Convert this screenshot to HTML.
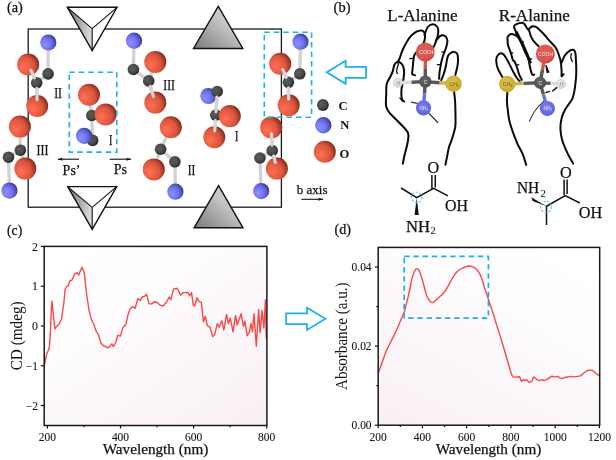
<!DOCTYPE html>
<html><head><meta charset="utf-8"><title>Figure</title>
<style>html,body{margin:0;padding:0;background:#fff;} svg{display:block;} text{font-family:"Liberation Serif", "Times New Roman", serif;}</style>
</head><body>
<svg width="616" height="460" viewBox="0 0 616 460">
<rect width="616" height="460" fill="#fff"/>

<defs>
 <radialGradient id="gO" cx="0.3" cy="0.62" r="0.78">
  <stop offset="0" stop-color="#ff7256"/><stop offset="0.35" stop-color="#ed5f45"/><stop offset="0.6" stop-color="#da543e"/>
  <stop offset="0.8" stop-color="#a83c2a"/><stop offset="1" stop-color="#5e1e10"/>
 </radialGradient>
 <radialGradient id="gN" cx="0.3" cy="0.62" r="0.78">
  <stop offset="0" stop-color="#8e8eff"/><stop offset="0.35" stop-color="#7a7cf6"/><stop offset="0.6" stop-color="#6466de"/>
  <stop offset="0.8" stop-color="#4a4cb0"/><stop offset="1" stop-color="#24266a"/>
 </radialGradient>
 <radialGradient id="gC" cx="0.42" cy="0.42" r="0.62" fx="0.38" fy="0.4">
  <stop offset="0" stop-color="#5c5c5c"/><stop offset="0.6" stop-color="#4a4a4a"/>
  <stop offset="1" stop-color="#222"/>
 </radialGradient>
 <linearGradient id="gTri" x1="0" y1="1" x2="1" y2="0">
  <stop offset="0" stop-color="#7a7a7a"/><stop offset="0.6" stop-color="#c4c4c4"/><stop offset="1" stop-color="#dedede"/>
 </linearGradient>
 <linearGradient id="gFace" x1="0" y1="0" x2="1" y2="0.3">
  <stop offset="0" stop-color="#6e6e6e"/><stop offset="1" stop-color="#d8d8d8"/>
 </linearGradient>
 <radialGradient id="bRed" cx="0.45" cy="0.4" r="0.6"><stop offset="0" stop-color="#e0605a"/><stop offset="0.8" stop-color="#d9534a"/><stop offset="1" stop-color="#c84840"/></radialGradient>
 <radialGradient id="bGray" cx="0.45" cy="0.4" r="0.6"><stop offset="0" stop-color="#6a6a6a"/><stop offset="1" stop-color="#4c4c4c"/></radialGradient>
 <radialGradient id="bH" cx="0.45" cy="0.4" r="0.6"><stop offset="0" stop-color="#eeeeee"/><stop offset="1" stop-color="#cfcfcf"/></radialGradient>
 <radialGradient id="bY" cx="0.45" cy="0.4" r="0.6"><stop offset="0" stop-color="#dcc24c"/><stop offset="1" stop-color="#c9a930"/></radialGradient>
 <radialGradient id="bB" cx="0.45" cy="0.4" r="0.6"><stop offset="0" stop-color="#7c80f0"/><stop offset="1" stop-color="#5e62d8"/></radialGradient>
 <linearGradient id="bgC" x1="0.15" y1="0" x2="1" y2="1">
  <stop offset="0" stop-color="#ffffff"/><stop offset="0.3" stop-color="#fefcfd"/><stop offset="1" stop-color="#f8eff4"/>
 </linearGradient>
 <linearGradient id="bgD" x1="0.75" y1="0" x2="0.1" y2="1">
  <stop offset="0" stop-color="#ffffff"/><stop offset="0.3" stop-color="#fefcfd"/><stop offset="1" stop-color="#f9f0f5"/>
 </linearGradient>
 <linearGradient id="hb1" x1="0" y1="0" x2="1" y2="0"><stop offset="0" stop-color="#e0e0e0"/><stop offset="1" stop-color="#555"/></linearGradient>
 <linearGradient id="hb2" x1="0" y1="0" x2="1" y2="0"><stop offset="0" stop-color="#555"/><stop offset="1" stop-color="#e0e0e0"/></linearGradient>
 <marker id="ah" viewBox="0 0 10 10" refX="9" refY="5" markerWidth="5" markerHeight="5" orient="auto-start-reverse" markerUnits="strokeWidth"><path d="M0,2.2 L10,5 L0,7.8 L2,5 z" fill="#111"/></marker>
</defs>

<text x="6.9" y="11.6" font-size="14" text-anchor="start" font-weight="normal" fill="#111" textLength="15.9" lengthAdjust="spacingAndGlyphs" stroke="#111" stroke-width="0.25" >(a)</text>
<rect x="28.2" y="29" width="253.2" height="178.2" fill="none" stroke="#1a1a1a" stroke-width="1.3"/>
<line x1="48.3" y1="42.5" x2="48.1" y2="73.9" stroke="#d2d2d2" stroke-width="3.4"/>
<line x1="48.1" y1="73.9" x2="36.7" y2="82.8" stroke="#d2d2d2" stroke-width="3.4"/>
<line x1="36.7" y1="82.8" x2="28.2" y2="64.5" stroke="#d2d2d2" stroke-width="3.4"/>
<line x1="36.7" y1="82.8" x2="37.2" y2="106" stroke="#d2d2d2" stroke-width="3.4"/>
<circle cx="48.3" cy="42.5" r="8.1" fill="url(#gN)"/>
<circle cx="48.1" cy="73.9" r="5.8" fill="url(#gC)"/>
<circle cx="28.2" cy="64.5" r="11" fill="url(#gO)"/>
<circle cx="36.7" cy="82.8" r="5.8" fill="url(#gC)"/>
<circle cx="37.2" cy="106" r="11" fill="url(#gO)"/>
<line x1="34.38" y1="77.8" x2="30.89" y2="70.29" stroke="#d6d6d6" stroke-width="3.2" stroke-linecap="round"/>
<line x1="36.82" y1="88.31" x2="37.06" y2="99.62" stroke="#d6d6d6" stroke-width="3.2" stroke-linecap="round"/>
<line x1="19.9" y1="126.6" x2="20.4" y2="150.2" stroke="#d2d2d2" stroke-width="3.4"/>
<line x1="20.4" y1="150.2" x2="8.5" y2="157.2" stroke="#d2d2d2" stroke-width="3.4"/>
<line x1="20.4" y1="150.2" x2="25.3" y2="168.6" stroke="#d2d2d2" stroke-width="3.4"/>
<line x1="8.5" y1="157.2" x2="9.5" y2="190.6" stroke="#d2d2d2" stroke-width="3.4"/>
<circle cx="19.9" cy="126.6" r="11" fill="url(#gO)"/>
<circle cx="8.5" cy="157.2" r="5.8" fill="url(#gC)"/>
<circle cx="20.4" cy="150.2" r="5.8" fill="url(#gC)"/>
<circle cx="25.3" cy="168.6" r="11" fill="url(#gO)"/>
<circle cx="9.5" cy="190.6" r="8.1" fill="url(#gN)"/>
<line x1="89" y1="94.7" x2="91.8" y2="115.5" stroke="#d2d2d2" stroke-width="3.4"/>
<line x1="91.8" y1="115.5" x2="105.6" y2="114.4" stroke="#d2d2d2" stroke-width="3.4"/>
<line x1="91.8" y1="115.5" x2="92.6" y2="140.4" stroke="#d2d2d2" stroke-width="3.4"/>
<line x1="92.6" y1="140.4" x2="84.1" y2="135.8" stroke="#d2d2d2" stroke-width="3.4"/>
<circle cx="89" cy="94.7" r="11" fill="url(#gO)"/>
<circle cx="91.8" cy="115.5" r="5.8" fill="url(#gC)"/>
<circle cx="105.6" cy="114.4" r="11" fill="url(#gO)"/>
<circle cx="92.6" cy="140.4" r="5.8" fill="url(#gC)"/>
<circle cx="84.1" cy="135.8" r="8.1" fill="url(#gN)"/>
<line x1="134" y1="40.7" x2="133.4" y2="69.5" stroke="#d2d2d2" stroke-width="3.4"/>
<line x1="133.4" y1="69.5" x2="148.7" y2="80.9" stroke="#d2d2d2" stroke-width="3.4"/>
<line x1="148.7" y1="80.9" x2="155.3" y2="61.9" stroke="#d2d2d2" stroke-width="3.4"/>
<line x1="148.7" y1="80.9" x2="155.3" y2="102.6" stroke="#d2d2d2" stroke-width="3.4"/>
<circle cx="134" cy="40.7" r="8.1" fill="url(#gN)"/>
<circle cx="155.3" cy="61.9" r="11" fill="url(#gO)"/>
<circle cx="133.4" cy="69.5" r="5.8" fill="url(#gC)"/>
<circle cx="148.7" cy="80.9" r="5.8" fill="url(#gC)"/>
<circle cx="155.3" cy="102.6" r="11" fill="url(#gO)"/>
<line x1="150.3" y1="86.17" x2="153.44" y2="96.5" stroke="#d6d6d6" stroke-width="3.2" stroke-linecap="round"/>
<line x1="170.8" y1="127.2" x2="160.6" y2="149.2" stroke="#d2d2d2" stroke-width="3.4"/>
<line x1="160.6" y1="149.2" x2="153.8" y2="169.4" stroke="#d2d2d2" stroke-width="3.4"/>
<line x1="160.6" y1="149.2" x2="174.9" y2="161.8" stroke="#d2d2d2" stroke-width="3.4"/>
<line x1="174.9" y1="161.8" x2="175.4" y2="191.7" stroke="#d2d2d2" stroke-width="3.4"/>
<circle cx="170.8" cy="127.2" r="11" fill="url(#gO)"/>
<circle cx="160.6" cy="149.2" r="5.8" fill="url(#gC)"/>
<circle cx="174.9" cy="161.8" r="5.8" fill="url(#gC)"/>
<circle cx="153.8" cy="169.4" r="11" fill="url(#gO)"/>
<circle cx="175.4" cy="191.7" r="8.1" fill="url(#gN)"/>
<line x1="217.2" y1="91.5" x2="215.8" y2="115.1" stroke="#d2d2d2" stroke-width="3.4"/>
<line x1="215.8" y1="115.1" x2="229.8" y2="116.1" stroke="#d2d2d2" stroke-width="3.4"/>
<line x1="215.8" y1="115.1" x2="214.3" y2="137.3" stroke="#d2d2d2" stroke-width="3.4"/>
<circle cx="208.4" cy="96" r="8.1" fill="url(#gN)"/>
<circle cx="217.2" cy="91.5" r="5.8" fill="url(#gC)"/>
<circle cx="215.8" cy="115.1" r="5.8" fill="url(#gC)"/>
<circle cx="229.8" cy="116.1" r="11" fill="url(#gO)"/>
<circle cx="214.3" cy="137.3" r="11" fill="url(#gO)"/>
<line x1="216.87" y1="97" x2="216" y2="111.74" stroke="#d6d6d6" stroke-width="3.2" stroke-linecap="round"/>
<line x1="215.43" y1="120.6" x2="214.73" y2="130.93" stroke="#d6d6d6" stroke-width="3.2" stroke-linecap="round"/>
<line x1="300.5" y1="41.7" x2="299.8" y2="73.8" stroke="#d2d2d2" stroke-width="3.4"/>
<line x1="299.8" y1="73.8" x2="288.4" y2="82.3" stroke="#d2d2d2" stroke-width="3.4"/>
<line x1="288.4" y1="82.3" x2="280.2" y2="63.7" stroke="#d2d2d2" stroke-width="3.4"/>
<line x1="288.4" y1="82.3" x2="288.7" y2="105.3" stroke="#d2d2d2" stroke-width="3.4"/>
<circle cx="300.5" cy="41.7" r="8.1" fill="url(#gN)"/>
<circle cx="280.2" cy="63.7" r="11" fill="url(#gO)"/>
<circle cx="299.8" cy="73.8" r="5.8" fill="url(#gC)"/>
<circle cx="288.4" cy="82.3" r="5.8" fill="url(#gC)"/>
<circle cx="288.7" cy="105.3" r="11" fill="url(#gO)"/>
<line x1="288.47" y1="87.81" x2="288.62" y2="98.92" stroke="#d6d6d6" stroke-width="3.2" stroke-linecap="round"/>
<line x1="286.18" y1="77.26" x2="282.77" y2="69.54" stroke="#d6d6d6" stroke-width="3.2" stroke-linecap="round"/>
<line x1="271.2" y1="127.4" x2="272.2" y2="150.6" stroke="#d2d2d2" stroke-width="3.4"/>
<line x1="272.2" y1="150.6" x2="259.9" y2="158" stroke="#d2d2d2" stroke-width="3.4"/>
<line x1="272.2" y1="150.6" x2="276.9" y2="168.6" stroke="#d2d2d2" stroke-width="3.4"/>
<line x1="259.9" y1="158" x2="261.2" y2="191.1" stroke="#d2d2d2" stroke-width="3.4"/>
<circle cx="271.2" cy="127.4" r="11" fill="url(#gO)"/>
<circle cx="259.9" cy="158" r="5.8" fill="url(#gC)"/>
<circle cx="272.2" cy="150.6" r="5.8" fill="url(#gC)"/>
<circle cx="276.9" cy="168.6" r="11" fill="url(#gO)"/>
<circle cx="261.2" cy="191.1" r="8.1" fill="url(#gN)"/>
<line x1="271.96" y1="145.1" x2="271.47" y2="133.77" stroke="#d6d6d6" stroke-width="3.2" stroke-linecap="round"/>
<line x1="273.59" y1="155.93" x2="275.29" y2="162.43" stroke="#d6d6d6" stroke-width="3.2" stroke-linecap="round"/>
<text x="54.2" y="98.4" font-size="14.2" text-anchor="start" font-weight="normal" fill="#111" textLength="7.8" lengthAdjust="spacingAndGlyphs" stroke="#111" stroke-width="0.25" >II</text>
<text x="36.6" y="154.7" font-size="14.2" text-anchor="start" font-weight="normal" fill="#111" textLength="12" lengthAdjust="spacingAndGlyphs" stroke="#111" stroke-width="0.25" >III</text>
<text x="108.9" y="145.4" font-size="14.2" text-anchor="start" font-weight="normal" fill="#111" textLength="3.4" lengthAdjust="spacingAndGlyphs" stroke="#111" stroke-width="0.25" >I</text>
<text x="163.3" y="89.5" font-size="14.2" text-anchor="start" font-weight="normal" fill="#111" textLength="11.6" lengthAdjust="spacingAndGlyphs" stroke="#111" stroke-width="0.25" >III</text>
<text x="187.8" y="174.5" font-size="14.2" text-anchor="start" font-weight="normal" fill="#111" textLength="7.6" lengthAdjust="spacingAndGlyphs" stroke="#111" stroke-width="0.25" >II</text>
<text x="235" y="140.7" font-size="14.2" text-anchor="start" font-weight="normal" fill="#111" textLength="3.4" lengthAdjust="spacingAndGlyphs" stroke="#111" stroke-width="0.25" >I</text>
<line x1="58" y1="159.2" x2="79" y2="159.2" stroke="#111" stroke-width="1.1" marker-start="url(#ah)"/>
<line x1="109.8" y1="159.2" x2="131" y2="159.2" stroke="#111" stroke-width="1.1" marker-end="url(#ah)"/>
<text x="62.6" y="174.5" font-size="14" text-anchor="start" font-weight="normal" fill="#111" stroke="#111" stroke-width="0.25" >Ps&#8217;</text>
<text x="113.8" y="174.2" font-size="14" text-anchor="start" font-weight="normal" fill="#111" stroke="#111" stroke-width="0.25" >Ps</text>
<rect x="69.3" y="72.2" width="47.5" height="79.9" fill="none" stroke="#1cb0ee" stroke-width="1.6" stroke-dasharray="5.5 4"/>
<rect x="264.3" y="32.2" width="47.3" height="85.1" fill="none" stroke="#1cb0ee" stroke-width="1.6" stroke-dasharray="5.5 4"/>
<polygon points="67.3,7.3 117.1,7.3 92.2,50.6" fill="#fff"/>
<polygon points="67.3,7.3 92.2,28.6 92.2,50.6" fill="url(#gFace)"/>
<polygon points="67.3,7.3 117.1,7.3 92.2,50.6" fill="none" stroke="#111" stroke-width="1.4" stroke-linejoin="miter"/>
<path d="M67.3,7.3 L92.2,28.6 L117.1,7.3 M92.2,28.6 L92.2,50.6" fill="none" stroke="#111" stroke-width="1.1"/>
<polygon points="67.7,186.6 116.7,186.6 92.2,229.3" fill="#fff"/>
<polygon points="67.7,186.6 92.2,207.3 92.2,229.3" fill="url(#gFace)"/>
<polygon points="67.7,186.6 116.7,186.6 92.2,229.3" fill="none" stroke="#111" stroke-width="1.4" stroke-linejoin="miter"/>
<path d="M67.7,186.6 L92.2,207.3 L116.7,186.6 M92.2,207.3 L92.2,229.3" fill="none" stroke="#111" stroke-width="1.1"/>
<polygon points="218.3,6.4 193.5,48.5 242.8,48.5" fill="url(#gTri)" stroke="#111" stroke-width="1.4"/>
<polygon points="218.6,185.7 194.1,227.8 243,227.8" fill="url(#gTri)" stroke="#111" stroke-width="1.4"/>
<circle cx="322.9" cy="105" r="5.9" fill="url(#gC)"/>
<circle cx="323.3" cy="125.3" r="8.2" fill="url(#gN)"/>
<circle cx="324.8" cy="151.8" r="11" fill="url(#gO)"/>
<text x="338.6" y="109.6" font-size="12.6" text-anchor="start" font-weight="bold" fill="#111" >C</text>
<text x="340.3" y="129.4" font-size="12.6" text-anchor="start" font-weight="bold" fill="#111" >N</text>
<text x="339.4" y="158.3" font-size="12.6" text-anchor="start" font-weight="bold" fill="#111" >O</text>
<text x="296.8" y="193.5" font-size="13" text-anchor="start" font-weight="normal" fill="#111" stroke="#111" stroke-width="0.25" >b axis</text>
<line x1="301.4" y1="199.3" x2="323" y2="199.3" stroke="#111" stroke-width="1.1" marker-end="url(#ah)"/>
<path d="M326.8,72.3 L345.6,60.8 L345.6,66.8 L366,66.8 L366,77.9 L345.6,77.9 L345.6,83.8 Z" fill="none" stroke="#1cb0ee" stroke-width="1.8" stroke-linejoin="miter"/>
<path d="M325.5,318.7 L307,307.7 L307,313.4 L286.1,313.4 L286.1,324.2 L307,324.2 L307,330 Z" fill="none" stroke="#1cb0ee" stroke-width="1.7" stroke-linejoin="miter"/>
<text x="333.6" y="11.5" font-size="14.3" text-anchor="start" font-weight="normal" fill="#111" textLength="16.9" lengthAdjust="spacingAndGlyphs" stroke="#111" stroke-width="0.25" >(b)</text>
<text x="387.2" y="21.4" font-size="17.5" text-anchor="start" font-weight="normal" fill="#111" textLength="70.4" lengthAdjust="spacingAndGlyphs" stroke="#111" stroke-width="0.25" >L-Alanine</text>
<text x="498.8" y="20.9" font-size="17.5" text-anchor="start" font-weight="normal" fill="#111" textLength="71" lengthAdjust="spacingAndGlyphs" stroke="#111" stroke-width="0.25" >R-Alanine</text>
<path d="M402.8,163.7 C403.1,162.25 403.82,158.45 404.6,155 C405.38,151.55 406.93,146.67 407.5,143 C408.07,139.33 409.4,136.42 408,133 C406.6,129.58 402.2,125.88 399.1,122.5 C396,119.12 391.57,115.45 389.4,112.7 C387.23,109.95 386.63,108.95 386.1,106 C385.57,103.05 386.1,98.67 386.2,95 C386.3,91.33 386.07,86.95 386.7,84 C387.33,81.05 389,79.42 390,77.3 C391,75.18 391.98,73.35 392.7,71.3 C393.42,69.25 393.58,66.53 394.3,65 C395.02,63.47 396,62.5 397,62.1 C398,61.7 399.3,61.97 400.3,62.6 C401.3,63.23 402.37,64.27 403,65.9 C403.63,67.53 404.05,70.05 404.1,72.4 C404.15,74.75 403.72,77.28 403.3,80 C402.88,82.72 401.92,86.03 401.6,88.7 C401.28,91.37 401.25,94.08 401.4,96 C401.55,97.92 402.02,99.28 402.5,100.2 C402.98,101.12 404,101.28 404.3,101.5" fill="none" stroke="#0a0a0a" stroke-width="2.0" stroke-linecap="round" stroke-linejoin="round"/>
<path d="M397.5,62.5 C397.85,61.83 398.97,60 399.6,58.5 C400.23,57 400.68,55.17 401.3,53.5 C401.92,51.83 402.43,50.33 403.3,48.5 C404.17,46.67 405.38,44.38 406.5,42.5 C407.62,40.62 408.55,38.88 410,37.2 C411.45,35.52 413.45,33.5 415.2,32.4 C416.95,31.3 419.08,30.73 420.5,30.6 C421.92,30.47 422.95,30.78 423.7,31.6 C424.45,32.42 424.88,33.95 425,35.5 C425.12,37.05 424.93,39.13 424.4,40.9 C423.87,42.67 422.95,44.42 421.8,46.1 C420.65,47.78 418.77,49.43 417.5,51 C416.23,52.57 414.9,53.75 414.2,55.5 C413.5,57.25 413.58,59.08 413.3,61.5 C413.02,63.92 412.68,67.92 412.5,70 C412.32,72.08 411.78,73.12 412.2,74 C412.62,74.88 414.53,75.08 415,75.3" fill="none" stroke="#0a0a0a" stroke-width="2.0" stroke-linecap="round" stroke-linejoin="round"/>
<path d="M424.5,35 C425.05,33.67 426.38,28.78 427.8,27 C429.22,25.22 431.4,24.3 433,24.3 C434.6,24.3 436.52,25.83 437.4,27 C438.28,28.17 438.3,29.57 438.3,31.3 C438.3,33.03 437.98,35.23 437.4,37.4 C436.82,39.57 435.62,42.37 434.8,44.3 C433.98,46.23 432.88,48.22 432.5,49" fill="none" stroke="#0a0a0a" stroke-width="2.0" stroke-linecap="round" stroke-linejoin="round"/>
<path d="M435.7,40.6 C436.42,39.85 438.78,37 440,36.1 C441.22,35.2 441.98,35.05 443,35.2 C444.02,35.35 445.37,36.05 446.1,37 C446.83,37.95 447.27,39.65 447.4,40.9 C447.53,42.15 447.2,43.15 446.9,44.5 C446.6,45.85 446.17,47.33 445.6,49 C445.03,50.67 444.13,52.67 443.5,54.5 C442.87,56.33 442.3,58 441.8,60 C441.3,62 440.87,64.52 440.5,66.5 C440.13,68.48 439.83,69.85 439.6,71.9 C439.37,73.95 439.18,77.65 439.1,78.8" fill="none" stroke="#0a0a0a" stroke-width="2.0" stroke-linecap="round" stroke-linejoin="round"/>
<path d="M441.2,80.2 C441.47,79.58 442.23,78.03 442.8,76.5 C443.37,74.97 444.07,72.83 444.6,71 C445.13,69.17 445.62,67.32 446,65.5 C446.38,63.68 446.53,61.77 446.9,60.1 C447.27,58.43 447.52,56.72 448.2,55.5 C448.88,54.28 450,53.4 451,52.8 C452,52.2 453.15,51.7 454.2,51.9 C455.25,52.1 456.67,52.37 457.3,54 C457.93,55.63 458.05,59.32 458,61.7 C457.95,64.08 457.45,66.08 457,68.3 C456.55,70.52 455.58,73.88 455.3,75" fill="none" stroke="#0a0a0a" stroke-width="2.0" stroke-linecap="round" stroke-linejoin="round"/>
<path d="M454,91 C454.17,92.5 454.77,96.83 455,100 C455.23,103.17 455.32,106 455.4,110 C455.48,114 455.63,120.67 455.5,124 C455.37,127.33 455.27,127.27 454.6,130 C453.93,132.73 452.45,137.5 451.5,140.4 C450.55,143.3 449.62,144.78 448.9,147.4 C448.18,150.02 447.78,153.2 447.2,156.1 C446.62,159 445.7,163.35 445.4,164.8" fill="none" stroke="#0a0a0a" stroke-width="2.0" stroke-linecap="round" stroke-linejoin="round"/>
<path d="M409.8,58.6 L413.8,58.4" fill="none" stroke="#0a0a0a" stroke-width="1.3" stroke-linecap="round" stroke-linejoin="round"/>
<path d="M437.3,64.6 L439.8,64.6" fill="none" stroke="#0a0a0a" stroke-width="1.3" stroke-linecap="round" stroke-linejoin="round"/>
<path d="M441.9,51.9 L444,51.9" fill="none" stroke="#0a0a0a" stroke-width="1.2" stroke-linecap="round" stroke-linejoin="round"/>
<path d="M399.9,98.1 L402,100.5" fill="none" stroke="#0a0a0a" stroke-width="1.3" stroke-linecap="round" stroke-linejoin="round"/>
<path d="M411.3,102.2 L417.1,103.4" fill="none" stroke="#333" stroke-width="1.2" stroke-linecap="round" stroke-linejoin="round"/>
<path d="M429.1,113.5 L437.7,122.5" fill="none" stroke="#333" stroke-width="1.2" stroke-linecap="round" stroke-linejoin="round"/>
<path d="M398.6,63.8 C398.42,64.33 397.85,65.72 397.5,67 C397.15,68.28 396.5,70.42 396.5,71.5 C396.5,72.58 397.33,73.17 397.5,73.5" fill="none" stroke="#0a0a0a" stroke-width="1.3" stroke-linecap="round" stroke-linejoin="round"/>
<line x1="397.9" y1="82.8" x2="411.6" y2="82.2" stroke="#dcdcdc" stroke-width="3.4"/>
<line x1="411.6" y1="82.2" x2="425.3" y2="81.6" stroke="#585858" stroke-width="3.4"/>
<line x1="425.3" y1="52" x2="425.3" y2="68.28" stroke="#d9534a" stroke-width="3.4"/>
<line x1="425.3" y1="68.28" x2="425.3" y2="81.6" stroke="#585858" stroke-width="3.4"/>
<line x1="453.6" y1="83.8" x2="439.45" y2="82.7" stroke="#d4b43c" stroke-width="3.4"/>
<line x1="439.45" y1="82.7" x2="425.3" y2="81.6" stroke="#585858" stroke-width="3.4"/>
<line x1="423.5" y1="107.8" x2="424.49" y2="93.39" stroke="#6b70e0" stroke-width="3.4"/>
<line x1="424.49" y1="93.39" x2="425.3" y2="81.6" stroke="#585858" stroke-width="3.4"/>
<circle cx="397.9" cy="82.8" r="4.9" fill="url(#bH)"/>
<circle cx="425.3" cy="52" r="9.5" fill="url(#bRed)"/>
<circle cx="425.3" cy="81.6" r="6.1" fill="url(#bGray)"/>
<circle cx="453.6" cy="83.8" r="8.2" fill="url(#bY)"/>
<circle cx="423.5" cy="107.8" r="7.6" fill="url(#bB)"/>
<text x="425.5" y="83.5" font-size="5.2" text-anchor="middle" fill="#e0e0e0" font-weight="normal" style='font-family:"Liberation Sans", sans-serif'>C</text>
<text x="398.2" y="84.6" font-size="4.8" text-anchor="middle" fill="#8a8a8a" font-weight="normal" style='font-family:"Liberation Sans", sans-serif'>H</text>
<text x="454" y="85.7" font-size="5.0" text-anchor="middle" fill="#6a5a1c" font-weight="normal" textLength="9" lengthAdjust="spacingAndGlyphs" style='font-family:"Liberation Sans", sans-serif'>CH<tspan font-size="3" dy="0.8">3</tspan></text>
<text x="423.9" y="109.7" font-size="4.6" text-anchor="middle" fill="#dfe0fb" font-weight="normal" textLength="8.6" lengthAdjust="spacingAndGlyphs" style='font-family:"Liberation Sans", sans-serif'>NH<tspan font-size="3" dy="0.8">3</tspan></text>
<clipPath id="cpL"><circle cx="425.3" cy="52" r="9.3"/></clipPath>
<g clip-path="url(#cpL)">
<text x="427.3" y="54.1" font-size="5.8" text-anchor="middle" fill="#f8e4e0" font-weight="normal" textLength="16" lengthAdjust="spacingAndGlyphs" style='font-family:"Liberation Sans", sans-serif'>COOH</text>
</g>
<path d="M507.4,92.5 C507.32,93.87 506.83,97.78 506.9,100.7 C506.97,103.62 507.32,106.35 507.8,110 C508.28,113.65 508.3,117.2 509.8,122.6 C511.3,128 514.68,137.22 516.8,142.4 C518.92,147.58 520.93,149.95 522.5,153.7 C524.07,157.45 525.58,163.03 526.2,164.9" fill="none" stroke="#0a0a0a" stroke-width="2.0" stroke-linecap="round" stroke-linejoin="round"/>
<path d="M502.8,77.5 C502.48,77.02 501.77,76.18 500.9,74.6 C500.03,73.02 498.37,70.18 497.6,68 C496.83,65.82 496.43,63.33 496.3,61.5 C496.17,59.67 496.3,58.28 496.8,57 C497.3,55.72 498.33,54.35 499.3,53.8 C500.27,53.25 501.68,53.33 502.6,53.7 C503.52,54.07 504.22,55.28 504.8,56 C505.38,56.72 505.33,56.65 506.1,58 C506.87,59.35 508.2,61.77 509.4,64.1 C510.6,66.43 512,69.6 513.3,72 C514.6,74.4 516.12,76.98 517.2,78.5 C518.28,80.02 519.37,80.67 519.8,81.1" fill="none" stroke="#0a0a0a" stroke-width="2.0" stroke-linecap="round" stroke-linejoin="round"/>
<path d="M521.8,79.8 C521.37,78.93 519.97,76.57 519.2,74.6 C518.43,72.63 517.97,70.18 517.2,68 C516.43,65.82 515.32,62.8 514.6,61.5 C513.88,60.2 513.53,61.68 512.9,60.2 C512.27,58.72 511.62,55.13 510.8,52.6 C509.98,50.07 508.55,47.35 508,45 C507.45,42.65 507.5,39.95 507.5,38.5 C507.5,37.05 507.37,37.03 508,36.3 C508.63,35.57 510.12,34.28 511.3,34.1 C512.48,33.92 513.92,34.65 515.1,35.2 C516.28,35.75 517.22,35.77 518.4,37.4 C519.58,39.03 521.03,42.47 522.2,45 C523.37,47.53 524.4,50.43 525.4,52.6 C526.4,54.77 527.4,55.43 528.2,58 C529,60.57 529.53,65.23 530.2,68 C530.87,70.77 531.53,73.5 532.2,74.6 C532.87,75.7 533.87,74.6 534.2,74.6" fill="none" stroke="#0a0a0a" stroke-width="2.0" stroke-linecap="round" stroke-linejoin="round"/>
<path d="M518.4,37.4 C517.85,36.13 515.83,31.62 515.1,29.8 C514.37,27.98 513.77,27.43 514,26.5 C514.23,25.57 515.13,24.83 516.5,24.2 C517.87,23.57 520.82,22.65 522.2,22.7 C523.58,22.75 524,23.58 524.8,24.5 C525.6,25.42 526.27,27.13 527,28.2 C527.73,29.27 528.55,29.55 529.2,30.9 C529.85,32.25 530.08,34.5 530.9,36.3 C531.72,38.1 532.83,40.07 534.1,41.7 C535.37,43.33 537.77,45.37 538.5,46.1" fill="none" stroke="#0a0a0a" stroke-width="2.0" stroke-linecap="round" stroke-linejoin="round"/>
<path d="M528.4,29.5 C529,29 530.68,26.9 532,26.5 C533.32,26.1 534.5,26.02 536.3,27.1 C538.1,28.18 540.63,30.73 542.8,33 C544.97,35.27 547.13,38.23 549.3,40.7 C551.47,43.17 554.07,44.98 555.8,47.8 C557.53,50.62 558.83,54.98 559.7,57.6 C560.57,60.22 560.68,61.22 561,63.5 C561.32,65.78 561.5,69.18 561.6,71.3 C561.7,73.42 561.27,75.72 561.6,76.2 C561.93,76.68 563.27,74.53 563.6,74.2" fill="none" stroke="#0a0a0a" stroke-width="2.0" stroke-linecap="round" stroke-linejoin="round"/>
<path d="M561.6,62.5 C562.1,61.37 563.28,57.65 564.6,55.7 C565.92,53.75 568.03,51.78 569.5,50.8 C570.97,49.82 572.43,49.48 573.4,49.8 C574.37,50.12 574.88,51.07 575.3,52.7 C575.72,54.33 575.73,56.5 575.9,59.6 C576.07,62.7 576.3,68.05 576.3,71.3 C576.3,74.55 576.22,75.83 575.9,79.1 C575.58,82.37 574.98,87.63 574.4,90.9 C573.82,94.17 573.38,96.42 572.4,98.7 C571.42,100.98 569.8,102.63 568.5,104.6 C567.2,106.57 565.75,108.22 564.6,110.5 C563.45,112.78 562.3,115.35 561.6,118.3 C560.9,121.25 560.33,124.67 560.4,128.2 C560.47,131.73 560.78,135.25 562,139.5 C563.22,143.75 565.82,149.68 567.7,153.7 C569.58,157.72 572.37,161.95 573.3,163.6" fill="none" stroke="#0a0a0a" stroke-width="2.0" stroke-linecap="round" stroke-linejoin="round"/>
<path d="M571.4,53.7 C571.3,54.35 570.63,56.3 570.8,57.6 C570.97,58.9 572.13,60.85 572.4,61.5" fill="none" stroke="#0a0a0a" stroke-width="1.3" stroke-linecap="round" stroke-linejoin="round"/>
<path d="M516.5,32.5 L519,37.5 L521.8,42.4 L524,47.5 L526.3,52.9 L528.5,58 L530.2,62" fill="none" stroke="#0a0a0a" stroke-width="3.0" stroke-linecap="round" stroke-linejoin="round"/>
<path d="M510.5,52.9 L512.8,52.9" fill="none" stroke="#0a0a0a" stroke-width="1.3" stroke-linecap="round" stroke-linejoin="round"/>
<path d="M516.5,64.8 L518.8,64.8" fill="none" stroke="#0a0a0a" stroke-width="1.3" stroke-linecap="round" stroke-linejoin="round"/>
<path d="M521.5,41.8 L523.5,41.8" fill="none" stroke="#0a0a0a" stroke-width="1.2" stroke-linecap="round" stroke-linejoin="round"/>
<path d="M529.8,58.8 L531.8,58.8" fill="none" stroke="#0a0a0a" stroke-width="1.2" stroke-linecap="round" stroke-linejoin="round"/>
<polygon points="545.3,65.2 546.6,65 549.6,72.6 546.6,73.2" fill="#111"/>
<path d="M552.8,90.9 L556.7,87.6" fill="none" stroke="#222" stroke-width="1.6" stroke-linecap="round" stroke-linejoin="round"/>
<path d="M546,92.5 L549.5,91.3" fill="none" stroke="#222" stroke-width="1.4" stroke-linecap="round" stroke-linejoin="round"/>
<path d="M529.5,121.2 C530.08,120 531.58,116.37 533,114 C534.42,111.63 536.17,109.17 538,107 C539.83,104.83 543,102 544,101" fill="none" stroke="#333" stroke-width="1.1" stroke-linecap="round" stroke-linejoin="round"/>
<line x1="560.9" y1="84" x2="550.5" y2="83.4" stroke="#dcdcdc" stroke-width="3.4"/>
<line x1="550.5" y1="83.4" x2="540.1" y2="82.8" stroke="#585858" stroke-width="3.4"/>
<line x1="545.3" y1="54" x2="542.44" y2="69.84" stroke="#d9534a" stroke-width="3.4"/>
<line x1="542.44" y1="69.84" x2="540.1" y2="82.8" stroke="#585858" stroke-width="3.4"/>
<line x1="507.2" y1="84" x2="523.65" y2="83.4" stroke="#d4b43c" stroke-width="3.4"/>
<line x1="523.65" y1="83.4" x2="540.1" y2="82.8" stroke="#585858" stroke-width="3.4"/>
<line x1="547.4" y1="108.5" x2="543.38" y2="94.36" stroke="#6b70e0" stroke-width="3.4"/>
<line x1="543.38" y1="94.36" x2="540.1" y2="82.8" stroke="#585858" stroke-width="3.4"/>
<circle cx="560.9" cy="84" r="4.9" fill="url(#bH)"/>
<circle cx="545.3" cy="54" r="9.5" fill="url(#bRed)"/>
<circle cx="540.1" cy="82.8" r="6.1" fill="url(#bGray)"/>
<circle cx="507.2" cy="84" r="8.2" fill="url(#bY)"/>
<circle cx="547.4" cy="108.5" r="7.6" fill="url(#bB)"/>
<text x="540.3" y="84.7" font-size="5.2" text-anchor="middle" fill="#e0e0e0" font-weight="normal" style='font-family:"Liberation Sans", sans-serif'>C</text>
<text x="561.2" y="85.8" font-size="4.8" text-anchor="middle" fill="#8a8a8a" font-weight="normal" style='font-family:"Liberation Sans", sans-serif'>H</text>
<text x="507.6" y="85.9" font-size="5.0" text-anchor="middle" fill="#6a5a1c" font-weight="normal" textLength="9" lengthAdjust="spacingAndGlyphs" style='font-family:"Liberation Sans", sans-serif'>CH<tspan font-size="3" dy="0.8">3</tspan></text>
<text x="547.8" y="110.4" font-size="4.6" text-anchor="middle" fill="#dfe0fb" font-weight="normal" textLength="8.6" lengthAdjust="spacingAndGlyphs" style='font-family:"Liberation Sans", sans-serif'>NH<tspan font-size="3" dy="0.8">3</tspan></text>
<text x="545.6" y="56.1" font-size="5.8" text-anchor="middle" fill="#f8e4e0" font-weight="normal" textLength="15" lengthAdjust="spacingAndGlyphs" style='font-family:"Liberation Sans", sans-serif'>COOH</text>
<path d="M401.1,188 L416.7,197.6 L433.6,188.4 L448,195.9 M431.9,175 L431.9,188.9 M435.3,175 L435.3,187.5" stroke="#111" stroke-width="1.5" fill="none" stroke-linecap="butt"/>
<polygon points="416.7,198 414.6,215 418.8,215" fill="#111"/>
<circle cx="416.7" cy="197.4" r="5.2" fill="none" stroke="#5cc0ea" stroke-width="1.1" stroke-dasharray="2.2 1.6"/>
<text x="427.6" y="173.3" font-size="16.2" text-anchor="start" font-weight="normal" fill="#111" stroke="#111" stroke-width="0.25" >O</text>
<text x="445" y="210.7" font-size="16.2" text-anchor="start" font-weight="normal" fill="#111" textLength="23" lengthAdjust="spacingAndGlyphs" stroke="#111" stroke-width="0.25" >OH</text>
<text x="405.9" y="231.5" font-size="16.2" text-anchor="start" font-weight="normal" fill="#111" textLength="24" lengthAdjust="spacingAndGlyphs" stroke="#111" stroke-width="0.25" >NH</text>
<text x="430.5" y="234.3" font-size="10.6" text-anchor="start" font-weight="normal" fill="#111" stroke="#111" stroke-width="0.08" >2</text>
<path d="M546.5,224.9 L546.5,206.3 L565.2,195.7 L579.8,203 M564.1,179.5 L564.1,195 M567.1,179.5 L567.1,194" stroke="#111" stroke-width="1.5" fill="none" stroke-linecap="butt"/>
<polygon points="546.5,206.3 531.3,197.3 532.7,200.9" fill="#111"/>
<circle cx="546" cy="206.8" r="5.5" fill="none" stroke="#5cc0ea" stroke-width="1.1" stroke-dasharray="2.2 1.6"/>
<text x="560" y="177.9" font-size="16.2" text-anchor="start" font-weight="normal" fill="#111" stroke="#111" stroke-width="0.25" >O</text>
<text x="578.8" y="217.6" font-size="16.2" text-anchor="start" font-weight="normal" fill="#111" textLength="23.5" lengthAdjust="spacingAndGlyphs" stroke="#111" stroke-width="0.25" >OH</text>
<text x="516.9" y="193.3" font-size="16.2" text-anchor="start" font-weight="normal" fill="#111" textLength="22.3" lengthAdjust="spacingAndGlyphs" stroke="#111" stroke-width="0.25" >NH</text>
<text x="540.6" y="197.3" font-size="10.6" text-anchor="start" font-weight="normal" fill="#111" stroke="#111" stroke-width="0.08" >2</text>
<text x="7.1" y="234.8" font-size="14" text-anchor="start" font-weight="normal" fill="#111" textLength="15.1" lengthAdjust="spacingAndGlyphs" stroke="#111" stroke-width="0.25" >(c)</text>
<rect x="44.2" y="246.4" width="222.7" height="179.1" fill="url(#bgC)"/>
<polyline points="44.8,363.6 46.5,354.5 48.4,350.3 49.3,347.5 50.4,333.3 51,316 51.9,301.3 53.1,312 54.8,328.8 56.7,326.4 59.1,324 61.5,319.2 63.9,302.5 65.1,289.4 66.3,287 68.2,285.8 69.8,281 72.2,279.8 74.6,273.9 77,272.7 78.7,275.1 80.6,270.3 82,267.2 84.2,272.7 86.5,293 88.9,309.7 91.3,319.2 93.7,324 96.1,331.1 98.5,334.7 100.9,343.1 103.2,345.5 105.6,346.7 107.5,347.9 109.2,347.2 111.7,343.9 113.5,346.5 116.1,341.3 117.8,335.2 120.4,336.1 123,327.4 125.7,324.8 128.3,313.5 130,309.1 132.6,306.5 135.2,308.3 137.8,298.7 140.4,300.4 142.2,297 144.8,296.1 146.5,294.3 149.1,303.9 151.7,303.9 154.3,301.7 157,302.2 159.6,304.8 163,306 166.5,302.2 169.1,297 170.9,299.6 173.5,289.1 177,288.3 178.7,290.9 180.4,295.2 183,292.6 185.7,292.6 187.8,292.2 189.6,295.9 191.5,292.6 193.3,305.1 194.6,306 197,297.7 198.9,301.4 201.3,302.3 203.5,321.8 205.3,316.2 207.2,325.5 210,327.3 212.7,336.5 214.6,334.7 217.3,323.6 219.2,327.3 222,320.8 223.8,330.1 226.6,314.4 228.4,323.6 230.3,318.1 233.1,331.9 235.5,315.5 237.3,325 241.1,313.6 243.4,326.5 244.9,321.2 247.2,335.7 249.5,331.9 251,323.5 252.5,331.9 254,313.6 256.3,346.3 258.6,309.8 260.1,332.6 262.1,310.5 263.9,328 265.4,299.9 266.3,338.7" fill="none" stroke="#f84848" stroke-width="1.4" stroke-linejoin="round"/>
<rect x="44.2" y="246.4" width="222.7" height="179.1" fill="none" stroke="#1a1a1a" stroke-width="1.5"/>
<line x1="40.8" y1="246.5" x2="44.2" y2="246.5" stroke="#111" stroke-width="1.2"/>
<text x="38" y="250.5" font-size="11.8" text-anchor="end" font-weight="normal" fill="#111" stroke="#111" stroke-width="0.08" >2</text>
<line x1="40.8" y1="286.25" x2="44.2" y2="286.25" stroke="#111" stroke-width="1.2"/>
<text x="38" y="290.25" font-size="11.8" text-anchor="end" font-weight="normal" fill="#111" stroke="#111" stroke-width="0.08" >1</text>
<line x1="40.8" y1="326" x2="44.2" y2="326" stroke="#111" stroke-width="1.2"/>
<text x="38" y="330" font-size="11.8" text-anchor="end" font-weight="normal" fill="#111" stroke="#111" stroke-width="0.08" >0</text>
<line x1="40.8" y1="365.75" x2="44.2" y2="365.75" stroke="#111" stroke-width="1.2"/>
<text x="38" y="369.75" font-size="11.8" text-anchor="end" font-weight="normal" fill="#111" textLength="12.2" lengthAdjust="spacingAndGlyphs" stroke="#111" stroke-width="0.08" >&#8722;1</text>
<line x1="40.8" y1="405.5" x2="44.2" y2="405.5" stroke="#111" stroke-width="1.2"/>
<text x="38" y="409.5" font-size="11.8" text-anchor="end" font-weight="normal" fill="#111" textLength="12.2" lengthAdjust="spacingAndGlyphs" stroke="#111" stroke-width="0.08" >&#8722;2</text>
<line x1="47.4" y1="425.5" x2="47.4" y2="428.5" stroke="#111" stroke-width="1.2"/>
<text x="47.4" y="440.6" font-size="12.3" text-anchor="middle" font-weight="normal" fill="#111" textLength="17.2" lengthAdjust="spacingAndGlyphs" stroke="#111" stroke-width="0.08" >200</text>
<line x1="83.95" y1="425.5" x2="83.95" y2="427.3" stroke="#111" stroke-width="1.2"/>
<line x1="120.5" y1="425.5" x2="120.5" y2="428.5" stroke="#111" stroke-width="1.2"/>
<text x="120.5" y="440.6" font-size="12.3" text-anchor="middle" font-weight="normal" fill="#111" textLength="17.2" lengthAdjust="spacingAndGlyphs" stroke="#111" stroke-width="0.08" >400</text>
<line x1="157.05" y1="425.5" x2="157.05" y2="427.3" stroke="#111" stroke-width="1.2"/>
<line x1="193.6" y1="425.5" x2="193.6" y2="428.5" stroke="#111" stroke-width="1.2"/>
<text x="193.6" y="440.6" font-size="12.3" text-anchor="middle" font-weight="normal" fill="#111" textLength="17.2" lengthAdjust="spacingAndGlyphs" stroke="#111" stroke-width="0.08" >600</text>
<line x1="230.15" y1="425.5" x2="230.15" y2="427.3" stroke="#111" stroke-width="1.2"/>
<line x1="266.7" y1="425.5" x2="266.7" y2="428.5" stroke="#111" stroke-width="1.2"/>
<text x="266.7" y="440.6" font-size="12.3" text-anchor="middle" font-weight="normal" fill="#111" textLength="17.2" lengthAdjust="spacingAndGlyphs" stroke="#111" stroke-width="0.08" >800</text>
<text x="155.5" y="454.4" font-size="15" text-anchor="middle" font-weight="normal" fill="#111" textLength="105.7" lengthAdjust="spacingAndGlyphs" stroke="#111" stroke-width="0.25" >Wavelength (nm)</text>
<text transform="translate(21.6,335.8) rotate(-90)" x="0" y="0" font-size="16.2" text-anchor="middle" fill="#111" textLength="69" lengthAdjust="spacingAndGlyphs">CD (mdeg)</text>
<text x="334.5" y="234.4" font-size="14.5" text-anchor="start" font-weight="normal" fill="#111" textLength="16.5" lengthAdjust="spacingAndGlyphs" stroke="#111" stroke-width="0.25" >(d)</text>
<rect x="378.2" y="247.4" width="221.5" height="177.8" fill="url(#bgD)"/>
<polyline points="378.2,373.6 381,365.5 385.8,352 389.6,344 393.6,336.4 397.5,328 400.8,320 402.5,316 404.6,310.9 406.5,303.5 408.4,295.7 410,288 411.5,280.4 413,275 414.5,271.3 415.8,269.2 416.8,268.6 418,269.1 419.1,270.5 420.3,273.3 421.4,276.6 422.6,280.8 423.7,285 425.2,290.5 426.7,295.7 428.3,299 429.8,301 431.3,302.2 432.8,302.5 434.3,301.6 435.8,300.2 438.9,297.2 442.7,294.1 445.7,290.3 449.1,284.2 451.4,280 453.7,275.9 455.6,273.3 457.5,271.3 460,269.5 462.8,268 465.8,266.8 468.9,266 471.2,266.3 473.5,267 475.8,268.7 478.1,271.3 479.7,273.6 481.1,276.6 482.6,281.3 484.1,286.5 485.7,291.2 487.2,295.7 490.2,304.8 494,316 495.2,320.5 499.6,334.4 503.9,348.3 507.4,360.5 509.5,367.5 510.9,372.7 512.2,375.6 513.5,377.1 516.1,377.1 519.6,376.7 520.5,379 521.4,381.4 523.1,379.7 524.8,380.6 526.6,379.7 529.2,382.3 531.8,381.4 533.6,377.1 535.3,377.9 537,379.7 539.7,380.6 542.3,379.7 544,380.6 546.6,379.7 549.2,377.9 551.8,376.2 554.9,376.9 557.8,376.4 559.8,377.9 562.2,378.6 565.7,377.2 570.5,376.4 575.4,376.9 580.3,375.9 583.3,373.5 586.7,370.7 589.6,370.1 592.6,370.5 595.5,373 599,375.6" fill="none" stroke="#f84848" stroke-width="1.4" stroke-linejoin="round"/>
<rect x="404.2" y="256.4" width="84.2" height="61.8" fill="none" stroke="#1cb0ee" stroke-width="1.7" stroke-dasharray="5.4 3.8"/>
<rect x="378.2" y="247.4" width="221.5" height="177.8" fill="none" stroke="#1a1a1a" stroke-width="1.5"/>
<line x1="374.9" y1="425.2" x2="378.2" y2="425.2" stroke="#111" stroke-width="1.2"/>
<text x="371.6" y="429.1" font-size="11.6" text-anchor="end" font-weight="normal" fill="#111" textLength="20" lengthAdjust="spacingAndGlyphs" stroke="#111" stroke-width="0.08" >0.00</text>
<line x1="376.2" y1="385.65" x2="378.2" y2="385.65" stroke="#111" stroke-width="1.2"/>
<line x1="374.9" y1="346.1" x2="378.2" y2="346.1" stroke="#111" stroke-width="1.2"/>
<text x="371.6" y="350" font-size="11.6" text-anchor="end" font-weight="normal" fill="#111" textLength="20" lengthAdjust="spacingAndGlyphs" stroke="#111" stroke-width="0.08" >0.02</text>
<line x1="376.2" y1="306.55" x2="378.2" y2="306.55" stroke="#111" stroke-width="1.2"/>
<line x1="374.9" y1="267" x2="378.2" y2="267" stroke="#111" stroke-width="1.2"/>
<text x="371.6" y="270.9" font-size="11.6" text-anchor="end" font-weight="normal" fill="#111" textLength="20" lengthAdjust="spacingAndGlyphs" stroke="#111" stroke-width="0.08" >0.04</text>
<line x1="378.2" y1="425.2" x2="378.2" y2="428.2" stroke="#111" stroke-width="1.2"/>
<text x="378.2" y="440.7" font-size="12.3" text-anchor="middle" font-weight="normal" fill="#111" textLength="17.2" lengthAdjust="spacingAndGlyphs" stroke="#111" stroke-width="0.08" >200</text>
<line x1="400.32" y1="425.2" x2="400.32" y2="427" stroke="#111" stroke-width="1.2"/>
<line x1="422.44" y1="425.2" x2="422.44" y2="428.2" stroke="#111" stroke-width="1.2"/>
<text x="422.44" y="440.7" font-size="12.3" text-anchor="middle" font-weight="normal" fill="#111" textLength="17.2" lengthAdjust="spacingAndGlyphs" stroke="#111" stroke-width="0.08" >400</text>
<line x1="444.56" y1="425.2" x2="444.56" y2="427" stroke="#111" stroke-width="1.2"/>
<line x1="466.68" y1="425.2" x2="466.68" y2="428.2" stroke="#111" stroke-width="1.2"/>
<text x="466.68" y="440.7" font-size="12.3" text-anchor="middle" font-weight="normal" fill="#111" textLength="17.2" lengthAdjust="spacingAndGlyphs" stroke="#111" stroke-width="0.08" >600</text>
<line x1="488.8" y1="425.2" x2="488.8" y2="427" stroke="#111" stroke-width="1.2"/>
<line x1="510.92" y1="425.2" x2="510.92" y2="428.2" stroke="#111" stroke-width="1.2"/>
<text x="510.92" y="440.7" font-size="12.3" text-anchor="middle" font-weight="normal" fill="#111" textLength="17.2" lengthAdjust="spacingAndGlyphs" stroke="#111" stroke-width="0.08" >800</text>
<line x1="533.04" y1="425.2" x2="533.04" y2="427" stroke="#111" stroke-width="1.2"/>
<line x1="555.16" y1="425.2" x2="555.16" y2="428.2" stroke="#111" stroke-width="1.2"/>
<text x="555.16" y="440.7" font-size="12.3" text-anchor="middle" font-weight="normal" fill="#111" textLength="23" lengthAdjust="spacingAndGlyphs" stroke="#111" stroke-width="0.08" >1000</text>
<line x1="577.28" y1="425.2" x2="577.28" y2="427" stroke="#111" stroke-width="1.2"/>
<line x1="599.4" y1="425.2" x2="599.4" y2="428.2" stroke="#111" stroke-width="1.2"/>
<text x="599.4" y="440.7" font-size="12.3" text-anchor="middle" font-weight="normal" fill="#111" textLength="23" lengthAdjust="spacingAndGlyphs" stroke="#111" stroke-width="0.08" >1200</text>
<text x="488.5" y="454.4" font-size="15" text-anchor="middle" font-weight="normal" fill="#111" textLength="105.7" lengthAdjust="spacingAndGlyphs" stroke="#111" stroke-width="0.25" >Wavelength (nm)</text>
<text transform="translate(346.6,336.2) rotate(-90)" x="0" y="0" font-size="16" text-anchor="middle" fill="#111" textLength="107.6" lengthAdjust="spacingAndGlyphs">Absorbance (a.u.)</text>
</svg>
</body></html>
